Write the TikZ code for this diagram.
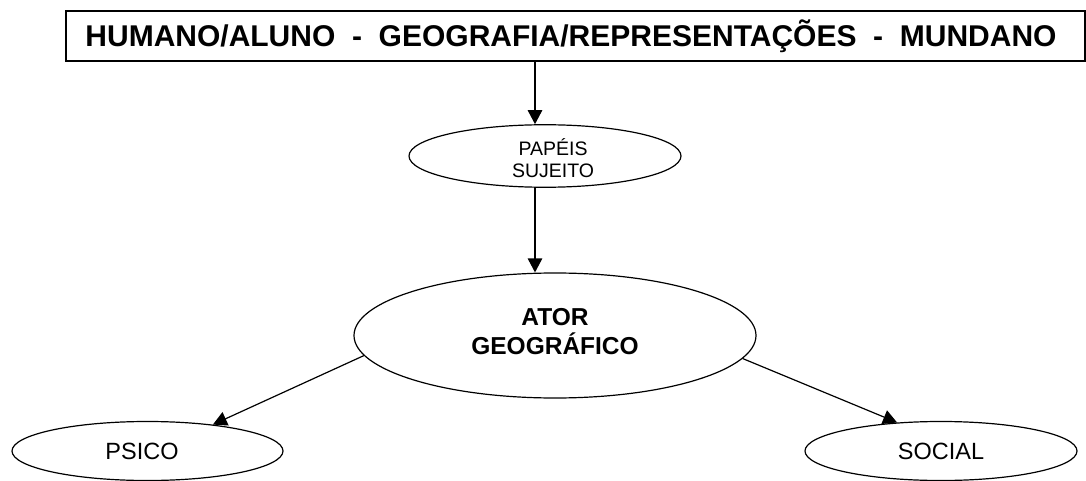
\documentclass[tikz,border=0pt]{standalone}
\usepackage{fontspec}
\setmainfont{Liberation Sans}
\usetikzlibrary{arrows.meta,shapes.geometric}
\begin{document}
\begin{tikzpicture}[x=1pt,y=-1pt,
  conn/.style={line width=1.2pt,-{Triangle[length=14pt,width=14.5pt]}},
  oval/.style={draw,ellipse,line width=1.2pt,inner sep=0pt,align=center},
  topbox/.style={draw,line width=1.4pt,inner sep=0pt,minimum width=1019pt,minimum height=50pt,font=\fontsize{30}{32}\selectfont\bfseries}
]
\useasboundingbox (0,0) rectangle (1086,481);
\node[topbox] (top) at (575.5,36) {HUMANO/ALUNO\ \ -\ \ GEOGRAFIA/REPRESENTAÇÕES\ \ -\ \ MUNDANO\hspace*{9pt}};
\node[oval,minimum width=272pt,minimum height=62pt,font=\fontsize{19.5}{22}\selectfont] (pap) at (545,156) {\hspace*{16pt}PAPÉIS\rule{0pt}{22pt}\\\hspace*{16pt}SUJEITO};
\node[oval,minimum width=402pt,minimum height=125pt,font=\fontsize{24.5}{29}\selectfont\bfseries] (ator) at (555,335.5) {ATOR\\GEOGRÁFICO\rule[-7.5pt]{0pt}{7.5pt}};
\node[oval,minimum width=271pt,minimum height=59pt,font=\fontsize{23.5}{26}\selectfont] (psico) at (147.5,451) {PSICO\hspace*{11pt}};
\node[oval,minimum width=272pt,minimum height=59pt,font=\fontsize{23.5}{26}\selectfont] (social) at (941,451) {SOCIAL};
\coordinate (ax) at (535,0);
\draw[conn] (top.south -| ax) -- (pap.north -| ax);
\draw[conn] (pap.south -| ax) -- (ator.north -| ax);
\draw[conn] (ator.186.7) -- (psico.22);
\draw[conn] (ator.353.1) -- (social.147.8);
\end{tikzpicture}
\end{document}
